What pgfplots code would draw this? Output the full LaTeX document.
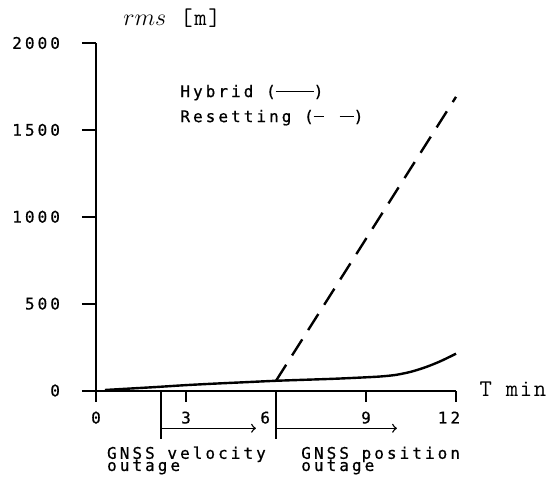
\documentclass[border=0pt]{standalone}
\usepackage{pgfplots}
\pgfplotsset{compat=1.18}
\usepackage{fontspec}
\newfontfamily\plotfont[LetterSpace=19,FakeBold=0.7]{DejaVu Sans Mono}
\newfontfamily\lmtt[LetterSpace=7]{Latin Modern Mono}
\begin{document}
\begin{tikzpicture}
\begin{axis}[
  at={(0,0)}, anchor=origin,
  scale only axis, width=180pt, height=173.75pt,
  xmin=0, xmax=12, ymin=0, ymax=2000,
  axis lines=left, axis line style={-, line width=1pt},
  xtick={0,3,6,9,12},
  xticklabels={0,3,{\makebox[0pt][r]{6\hspace{3pt}}},9,{\hspace*{-7pt}12}},
  ytick={0,500,1000,1500,2000}, yticklabels={0,500,1000,1500,2000},
  tick align=outside, major tick length=7pt,
  xtick style={/pgfplots/major tick length=5.5pt},
  tick style={line width=1pt, black},
  ticklabel style={font=\plotfont\fontsize{8}{8}\selectfont},
  yticklabel style={xshift=-7.5pt},
  clip=false,
]
\addplot[black, line width=1.2pt, smooth] coordinates {
 (0.3,3) (1,10) (2,20) (3,31) (4,40) (5,48) (6,56) (7,62) (8,68) (9,76)
 (9.5,81) (10,90) (10.5,108) (11,135) (11.5,170) (12,212)};
\addplot[black, line width=1.2pt, dash pattern=on 9.5pt off 5.5pt] coordinates {
 (6,56) (12,1690)};
% outage markers
\draw[line width=0.8pt] (axis cs:2.17,0) -- (axis cs:2.17,-279);
\draw[line width=0.8pt] (axis cs:6,0) -- (axis cs:6,-279);
\draw[line width=0.7pt, ->] (axis cs:2.17,-217.5) -- (axis cs:5.33,-217.5);
\draw[line width=0.7pt, ->] (axis cs:6,-217.5) -- (axis cs:10.03,-217.5);
\node[anchor=base west, inner sep=0pt, font=\plotfont\fontsize{8}{8}\selectfont] at (axis cs:0.357,-393) {GNSS velocity};
\node[anchor=base west, inner sep=0pt, font=\plotfont\fontsize{8}{8}\selectfont] at (axis cs:0.357,-463) {outage};
\node[anchor=base west, inner sep=0pt, font=\plotfont\fontsize{8}{8}\selectfont] at (axis cs:6.83,-393) {GNSS position};
\node[anchor=base west, inner sep=0pt, font=\plotfont\fontsize{8}{8}\selectfont] at (axis cs:6.83,-463) {outage};
% legend text
\node[anchor=base west, inner sep=0pt, font=\plotfont\fontsize{8}{8}\selectfont] at (axis cs:2.8,1689) {Hybrid (\rule[2.3pt]{19pt}{0.9pt})};
\node[anchor=base west, inner sep=0pt, font=\plotfont\fontsize{8}{8}\selectfont] at (axis cs:2.8,1545) {Resetting (\rule[2.3pt]{5pt}{0.9pt}\hspace{8pt}\rule[2.3pt]{7pt}{0.9pt})};
% axis labels
\node[anchor=base west, inner sep=0pt, font=\lmtt\fontsize{12}{12}\selectfont] at (axis cs:12.77,-35.7) {T min};
\node[anchor=base west, inner sep=0pt, font=\lmtt\fontsize{12}{12}\selectfont] at (axis cs:0.9,2098) {$rms$ [m]};
\end{axis}
\pgfresetboundingbox
\path[use as bounding box] (-48pt,-43.75pt) rectangle (229.5pt,195.25pt);
\end{tikzpicture}
\end{document}
